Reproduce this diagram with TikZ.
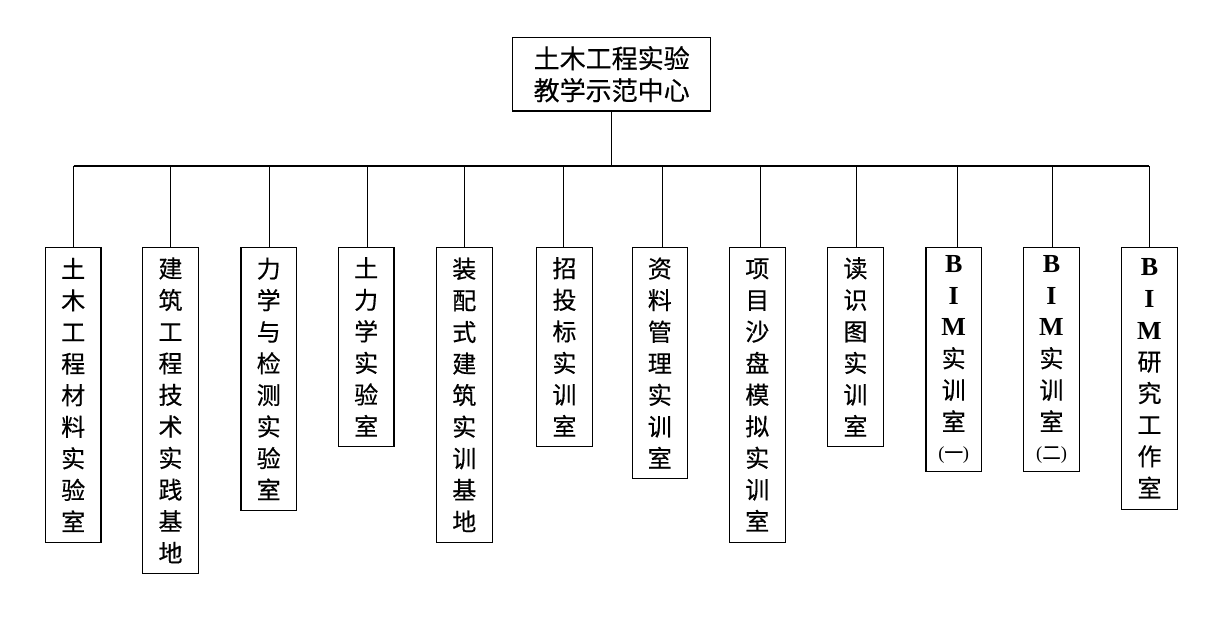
\documentclass[tikz,border=0pt]{standalone}
\usepackage{fontspec}
\setmainfont{Liberation Serif}
\newfontfamily\cjk[FakeBold=0.4]{Noto Sans CJK SC}
\newfontfamily\latinb{Liberation Serif}
\newcommand{\bimline}{{\latinb\bfseries\fontsize{26}{31.6}\selectfont B}\\{\latinb\bfseries\fontsize{26}{31.6}\selectfont I}\\{\latinb\bfseries\fontsize{26}{31.6}\selectfont M}}
\newcommand{\smallparen}[1]{{\fontsize{18.5}{20}\selectfont\latinb(\cjk #1\latinb)}}
\tikzset{
  line/.style={draw, line width=1.1pt},
  room/.style={draw, line width=1.1pt, anchor=north, inner sep=0pt,
    minimum width=55.5pt, align=center,
    font=\cjk\fontsize{24}{31.6}\selectfont},
  head/.style={draw, line width=1.1pt, inner sep=0pt, minimum width=198pt,
    minimum height=73.7pt, align=center, font=\cjk\fontsize{26}{32}\selectfont}
}
\begin{document}
\begin{tikzpicture}[x=1pt,y=-1pt]
\useasboundingbox (0,0) rectangle (1231,628);
\node[head] (top) at (611.7,74.2) {土木工程实验\\教学示范中心};

\node[room, minimum height=295.3pt] (b1) at (73.2,246.7) {土\\木\\工\\程\\材\\料\\实\\验\\室};
\node[room, minimum height=326.3pt] (b2) at (170.5,246.7) {建\\筑\\工\\程\\技\\术\\实\\践\\基\\地};
\node[room, minimum height=263.3pt] (b3) at (268.7,246.7) {力\\学\\与\\检\\测\\实\\验\\室};
\node[room, minimum height=199.3pt] (b4) at (366.2,246.7) {土\\力\\学\\实\\验\\室};
\node[room, minimum height=295.3pt] (b5) at (464.3,246.7) {装\\配\\式\\建\\筑\\实\\训\\基\\地};
\node[room, minimum height=199.3pt] (b6) at (564.5,246.7) {招\\投\\标\\实\\训\\室};
\node[room, minimum height=231.6pt] (b7) at (659.8,246.7) {资\\料\\管\\理\\实\\训\\室};
\node[room, minimum height=295.3pt] (b8) at (757.3,246.7) {项\\目\\沙\\盘\\模\\拟\\实\\训\\室};
\node[room, minimum height=199.3pt] (b9) at (855.5,246.7) {读\\识\\图\\实\\训\\室};
\node[room, minimum height=224.3pt] (b10) at (953.7,246.7) {\bimline\\实\\训\\室\\[-3pt]\smallparen{一}};
\node[room, minimum height=224.3pt] (b11) at (1051.5,246.7) {\bimline\\实\\训\\室\\[-3pt]\smallparen{二}};
\node[room, minimum height=262.6pt] (b12) at (1149.5,246.7) {\bimline\\研\\究\\工\\作\\室};

\coordinate (c1) at (73.6,166);
\coordinate (c2) at (170.3,166);
\coordinate (c3) at (269.3,166);
\coordinate (c4) at (367.3,166);
\coordinate (c5) at (464.3,166);
\coordinate (c6) at (563.3,166);
\coordinate (c7) at (662.5,166);
\coordinate (c8) at (760.3,166);
\coordinate (c9) at (856.2,166);
\coordinate (c10) at (957.7,166);
\coordinate (c11) at (1052.2,166);
\coordinate (c12) at (1149.3,166);

\draw[line] (c1) -- (c12);
\draw[line] (top.south) -- (top.south |- c1);
\foreach \i in {1,...,12} {
  \draw[line] (c\i) -- (c\i |- b\i.north);
}
\end{tikzpicture}
\end{document}
